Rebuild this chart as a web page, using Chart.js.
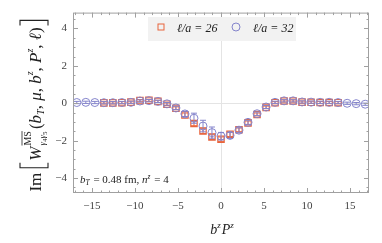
<!DOCTYPE html>
<html>
<head>
<meta charset="utf-8">
<script src="https://cdn.jsdelivr.net/npm/chart.js@4.4.0/dist/chart.umd.min.js"></script>
<style>
    html, body { margin: 0; padding: 0; background: #fff; }
    canvas { display: block; }
</style>
</head>
<body>
<canvas id="wChart" width="382" height="243"></canvas>
<script>
// b^z P^z positions (z = -16..16)
const bzPz = [-16.76, -15.71, -14.66, -13.61, -12.57, -11.52, -10.47, -9.42, -8.38, -7.33, -6.28,
    -5.24, -4.19, -3.14, -2.09, -1.05, 0, 1.05, 2.09, 3.14, 4.19, 5.24,
    6.28, 7.33, 8.38, 9.42, 10.47, 11.52, 12.57, 13.61, 14.66, 15.71, 16.76];

// l/a = 32
const imW32 = [0.04, 0.05, 0.04, 0.03, 0.03, 0.04, 0.05, 0.12, 0.14, 0.10, -0.03,
    -0.25, -0.57, -0.80, -1.22, -1.57, -1.76, -1.72, -1.44, -1.02, -0.56, -0.20,
    0.05, 0.13, 0.13, 0.07, 0.06, 0.05, 0.05, 0.04, 0.00, -0.02, -0.05];
const err32 = [0.06, 0.06, 0.06, 0.06, 0.06, 0.06, 0.06, 0.06, 0.06, 0.06, 0.07,
    0.09, 0.14, 0.27, 0.31, 0.30, 0.20, 0.16, 0.13, 0.11, 0.09, 0.08,
    0.06, 0.06, 0.06, 0.06, 0.06, 0.06, 0.06, 0.06, 0.06, 0.06, 0.06];

// l/a = 26 (z = -13..13)
const bzPz26 = bzPz.slice(3, 30);
const imW26 = [0.02, 0.02, 0.03, 0.06, 0.14, 0.16, 0.10, -0.05, -0.27, -0.62, -1.08,
    -1.48, -1.80, -1.92, -1.66, -1.42, -1.05, -0.60, -0.22, 0.03, 0.12,
    0.12, 0.06, 0.05, 0.04, 0.04, 0.03];
const err26 = [0.06, 0.06, 0.06, 0.06, 0.06, 0.06, 0.06, 0.07, 0.08, 0.10, 0.12,
    0.14, 0.14, 0.12, 0.12, 0.10, 0.10, 0.08, 0.07, 0.06, 0.06,
    0.06, 0.06, 0.06, 0.06, 0.06, 0.06];

const seriesLabels = ['ℓ/a = 26', 'ℓ/a = 32'];
const xTicks = [-15, -10, -5, 0, 5, 10, 15];
const yTicks = [-4, -2, 0, 2, 4];

const SERIF = '"Liberation Serif", "DejaVu Serif", serif';
const RED = '#e8643c';
const BLUE = '#8585cc';
const FRAME = '#a0a0a0';

function fmtTick(v)
{
    return v < 0 ? '\u2212' + Math.abs(v) : String(v);
}

function toPoints(xs, ys)
{
    return xs.map((x, i) => ({x: x, y: ys[i]}));
}

/** draw a run of text pieces, returns the end x **/
function drawRun(ctx, parts, x, y, measureOnly)
{
    parts.forEach(p => {
        ctx.font = p.f;
        if (!measureOnly) ctx.fillText(p.t, x, y + (p.dy || 0));
        x += ctx.measureText(p.t).width + (p.gap || 0);
    });
    return x;
}

const errorBars = {
    id: 'errorBars',
    afterDatasetDraw(chart, args) {
        const ds = chart.data.datasets[args.index];
        const {ctx, scales: {x, y}} = chart;
        ctx.save();
        ctx.strokeStyle = ds.borderColor;
        ctx.lineWidth = 1;
        ds.data.forEach((p, i) => {
            const px = x.getPixelForValue(p.x);
            const top = y.getPixelForValue(p.y + ds.errors[i]);
            const bot = y.getPixelForValue(p.y - ds.errors[i]);
            ctx.beginPath();
            ctx.moveTo(px, top); ctx.lineTo(px, bot);
            ctx.moveTo(px - 3, top); ctx.lineTo(px + 3, top);
            ctx.moveTo(px - 3, bot); ctx.lineTo(px + 3, bot);
            ctx.stroke();
        });
        ctx.restore();
    }
};

const frameAndText = {
    id: 'frameAndText',
    afterDraw(chart) {
        const {ctx, chartArea: a, scales: {x, y}} = chart;
        ctx.save();

        // frame with inward ticks on all sides
        ctx.strokeStyle = FRAME;
        ctx.lineWidth = 1;
        ctx.strokeRect(a.left + 0.5, a.top + 0.5, a.right - a.left - 1, a.bottom - a.top - 1);
        ctx.beginPath();
        for (let v = -17; v <= 17; v++) {
            const len = v % 5 === 0 ? 5 : 2.5;
            const px = Math.round(x.getPixelForValue(v)) + 0.5;
            ctx.moveTo(px, a.bottom); ctx.lineTo(px, a.bottom - len);
            ctx.moveTo(px, a.top); ctx.lineTo(px, a.top + len);
        }
        for (let v = -4.5; v <= 4.5; v += 0.5) {
            const len = v % 2 === 0 ? 5 : 2.5;
            const py = Math.round(y.getPixelForValue(v)) + 0.5;
            ctx.moveTo(a.left, py); ctx.lineTo(a.left + len, py);
            ctx.moveTo(a.right, py); ctx.lineTo(a.right - len, py);
        }
        ctx.stroke();

        // legend box
        ctx.fillStyle = '#f2f2f2';
        ctx.fillRect(148, 17, 148, 24);
        ctx.lineWidth = 1;
        ctx.strokeStyle = RED;
        ctx.strokeRect(158, 24, 6, 6);
        ctx.strokeStyle = BLUE;
        ctx.beginPath();
        ctx.arc(236, 27, 4, 0, Math.PI * 2);
        ctx.stroke();
        ctx.fillStyle = '#222';
        ctx.font = `italic 12px ${SERIF}`;
        ctx.fillText(seriesLabels[0], 177, 32);
        ctx.fillText(seriesLabels[1], 253, 32);

        // annotation
        const it = `italic 11px ${SERIF}`, rg = `11px ${SERIF}`, sm = `italic 7.5px ${SERIF}`;
        drawRun(ctx, [
            {t: 'b', f: it}, {t: 'T', f: sm, dy: 2, gap: 1},
            {t: ' = 0.48 fm, ', f: rg},
            {t: 'n', f: it}, {t: 'z', f: sm, dy: -4, gap: 1},
            {t: ' = 4', f: rg},
        ], 80, 183);

        // x title
        const xi = `italic 14px ${SERIF}`, xs = `italic 9px ${SERIF}`;
        const xParts = [
            {t: 'b', f: xi}, {t: 'z', f: xs, dy: -6, gap: 1},
            {t: 'P', f: xi}, {t: 'z', f: xs, dy: -6},
        ];
        const xw = drawRun(ctx, xParts, 0, 0, true);
        drawRun(ctx, xParts, 222 - xw / 2, 234);

        drawYTitle(ctx);
        ctx.restore();
    }
};

function drawYTitle(ctx)
{
    const S = 17;
    const rg = `${S}px ${SERIF}`, it = `italic ${S}px ${SERIF}`;
    const si = `italic 10px ${SERIF}`, sr = `10px ${SERIF}`, ss = `7px ${SERIF}`, sg = `italic 9px ${SERIF}`;
    ctx.save();
    ctx.translate(41, 106);
    ctx.rotate(-Math.PI / 2);
    ctx.fillStyle = '#222';
    ctx.strokeStyle = '#222';

    const head = [{t: 'Im', f: rg, gap: 5}];
    const w = [{t: 'W', f: it, gap: 1}];
    const sup = [{t: 'MS', f: sr}];
    const sub = [{t: 'γ', f: sg}, {t: '4', f: ss, dy: 2}, {t: 'γ', f: sg}, {t: '5', f: ss, dy: 2}];
    const args = [
        {t: '(', f: rg}, {t: 'b', f: it}, {t: 'T', f: si, dy: 3},
        {t: ', ', f: rg}, {t: 'μ', f: it}, {t: ', ', f: rg},
        {t: 'b', f: it}, {t: 'z', f: si, dy: -8},
        {t: ', ', f: rg}, {t: 'P', f: it}, {t: 'z', f: si, dy: -8},
        {t: ', ', f: rg}, {t: 'ℓ', f: it}, {t: ')', f: rg},
    ];
    const bw = 5;
    const wHead = drawRun(ctx, head, 0, 0, true);
    const wW = drawRun(ctx, w, 0, 0, true);
    const wSup = drawRun(ctx, sup, 0, 0, true);
    const wSub = drawRun(ctx, sub, 0, 0, true);
    const wArgs = drawRun(ctx, args, 0, 0, true);
    const total = wHead + bw + 2 + wW + Math.max(wSup, wSub) + 2 + wArgs + 2 + bw;

    let x = -total / 2;
    x = drawRun(ctx, head, x, 0);
    ctx.lineWidth = 1.1;
    ctx.beginPath();
    ctx.moveTo(x + bw, -21); ctx.lineTo(x, -21); ctx.lineTo(x, 7); ctx.lineTo(x + bw, 7);
    ctx.stroke();
    x += bw + 2;
    x = drawRun(ctx, w, x, 0);
    drawRun(ctx, sup, x, -10);
    ctx.lineWidth = 0.8;
    ctx.beginPath();
    ctx.moveTo(x, -19); ctx.lineTo(x + wSup, -19);
    ctx.stroke();
    drawRun(ctx, sub, x, 4);
    x += Math.max(wSup, wSub) + 2;
    x = drawRun(ctx, args, x, 0) + 2;
    ctx.lineWidth = 1.1;
    ctx.beginPath();
    ctx.moveTo(x, -21); ctx.lineTo(x + bw, -21); ctx.lineTo(x + bw, 7); ctx.lineTo(x, 7);
    ctx.stroke();
    ctx.restore();
}

function zeroGrid(color)
{
    return function (c) { return c.tick && c.tick.value === 0 ? color : 'rgba(0,0,0,0)'; };
}

const tickFont = {family: SERIF, size: 11};

new Chart(document.getElementById('wChart'), {
    type: 'scatter',
    data: {
        datasets: [
            {
                label: seriesLabels[1],
                data: toPoints(bzPz, imW32),
                errors: err32,
                pointStyle: 'circle',
                pointRadius: 4,
                borderColor: BLUE,
                backgroundColor: 'rgba(0,0,0,0)',
                borderWidth: 1,
                order: 1
            },
            {
                label: seriesLabels[0],
                data: toPoints(bzPz26, imW26),
                errors: err26,
                pointStyle: 'rect',
                pointRadius: 4.5,
                borderColor: RED,
                backgroundColor: 'rgba(0,0,0,0)',
                borderWidth: 1.2,
                order: 2
            }
        ]
    },
    options: {
        responsive: false,
        animation: false,
        events: [],
        layout: {padding: {top: 12, right: 13, left: 0, bottom: 0}},
        plugins: {
            legend: {display: false},
            tooltip: {enabled: false}
        },
        scales: {
            x: {
                type: 'linear',
                min: -17.2,
                max: 17.2,
                afterFit: s => { s.height = 50; },
                afterBuildTicks: s => { s.ticks = xTicks.map(v => ({value: v})); },
                grid: {color: zeroGrid('#e4e4e4'), drawTicks: false},
                border: {display: false},
                ticks: {font: tickFont, color: '#444', padding: 7, maxRotation: 0, callback: fmtTick}
            },
            y: {
                type: 'linear',
                min: -4.8,
                max: 4.85,
                afterFit: s => { s.width = 73; },
                afterBuildTicks: s => { s.ticks = yTicks.map(v => ({value: v})); },
                grid: {color: zeroGrid('#e4e4e4'), drawTicks: false},
                border: {display: false},
                ticks: {font: tickFont, color: '#444', padding: 6, callback: fmtTick}
            }
        }
    },
    plugins: [errorBars, frameAndText]
});
</script>
</body>
</html>
